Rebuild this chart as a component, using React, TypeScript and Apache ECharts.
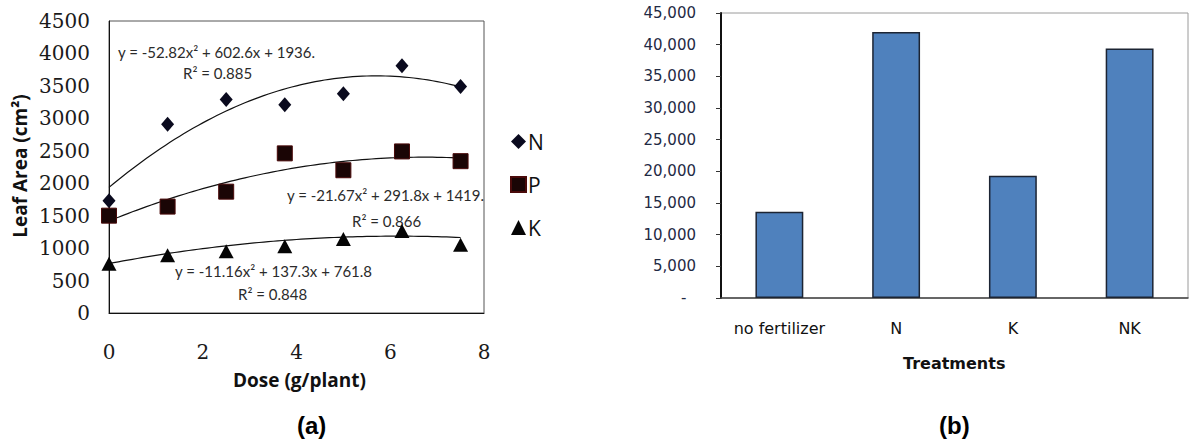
import React, { useEffect, useRef } from "react";
import * as echarts from "echarts";

// ---- Panel (a): leaf area vs dose ----
const doses = [0, 1.25, 2.5, 3.75, 5, 6.25, 7.5];
const nValues = [1730, 2910, 3290, 3210, 3380, 3810, 3490];
const pValues = [1500, 1640, 1870, 2460, 2200, 2490, 2340];
const kValues = [760, 890, 950, 1030, 1140, 1265, 1050];
// printed polynomial trend-line coefficients [a, b, c] for y = a x^2 + b x + c
const trendN = [-52.82, 602.6, 1936];
const trendP = [-21.67, 291.8, 1419];
const trendK = [-11.16, 137.3, 761.8];
const eqN = ["y = -52.82x² + 602.6x + 1936.", "R² = 0.885"];
const eqP = ["y = -21.67x² + 291.8x + 1419.", "R² = 0.866"];
const eqK = ["y = -11.16x² + 137.3x + 761.8", "R² = 0.848"];
const leftYTicks = [0, 4500, 500];
const leftXTicks = [0, 8, 2];

// ---- Panel (b): treatments ----
const treatments = ["no fertilizer", "N", "K", "NK"];
const treatmentValues = [13600, 42000, 19300, 39400];
const rightYTicks = [0, 45000, 5000];

function trendPoints(coef: number[]) {
  const pts: number[][] = [];
  for (let i = 0; i <= 75; i++) {
    const x = i / 10;
    pts.push([x, coef[0] * x * x + coef[1] * x + coef[2]]);
  }
  return pts;
}

const eqFont = { fontFamily: "Lato", fontSize: 15, fill: "#2b2b2b" };

export default function App() {
  const ref = useRef<HTMLDivElement>(null);
  useEffect(() => {
    if (!ref.current) return;
    const chart = echarts.init(ref.current, null, { renderer: "svg" });
    const serifLabel = { fontFamily: "DejaVu Serif", fontSize: 20, color: "#1a1a1a" };
    chart.setOption({
      animation: false,
      backgroundColor: "#ffffff",
      legend: {
        orient: "vertical",
        left: 505,
        top: 126,
        itemWidth: 15,
        itemHeight: 15,
        itemGap: 22,
        data: ["N", "P", "K"],
        textStyle: { fontFamily: "Open Sans", fontSize: 21, color: "#111", padding: [0, 0, 0, -3] },
      },
      grid: [
        { left: 109, top: 21, width: 375, height: 292, show: true, borderColor: "#555", borderWidth: 1, containLabel: false },
        { left: 721, top: 13, width: 467, height: 285, show: true, borderColor: "#9a9a9a", borderWidth: 1, containLabel: false },
      ],
      xAxis: [
        {
          gridIndex: 0,
          type: "value",
          min: leftXTicks[0],
          max: leftXTicks[1],
          interval: leftXTicks[2],
          axisLine: { show: true, onZero: false, lineStyle: { color: "#111", width: 1 } },
          axisTick: { show: false },
          splitLine: { show: false },
          axisLabel: { ...serifLabel, margin: 29, formatter: (v: number) => String(v) },
        },
        {
          gridIndex: 1,
          type: "category",
          data: treatments,
          axisLine: { show: true, lineStyle: { color: "#444", width: 1.5 } },
          axisTick: { show: false },
          axisLabel: { fontFamily: "DejaVu Sans", fontSize: 16, color: "#111", margin: 22, interval: 0 },
        },
      ],
      yAxis: [
        {
          gridIndex: 0,
          type: "value",
          min: leftYTicks[0],
          max: leftYTicks[1],
          interval: leftYTicks[2],
          axisLine: { show: true, onZero: false, lineStyle: { color: "#111", width: 1 } },
          axisTick: { show: false },
          splitLine: { show: false },
          axisLabel: { ...serifLabel, margin: 19, formatter: (v: number) => String(v) },
        },
        {
          gridIndex: 1,
          type: "value",
          min: rightYTicks[0],
          max: rightYTicks[1],
          interval: rightYTicks[2],
          axisLine: { show: true, lineStyle: { color: "#111", width: 2 } },
          axisTick: { show: true, length: 5, lineStyle: { color: "#333" } },
          splitLine: { show: false },
          axisLabel: {
            fontFamily: "DejaVu Sans",
            fontSize: 15,
            color: "#1f2a44",
            margin: 25,
            formatter: (v: number) => (v === 0 ? "-\u00a0\u00a0" : v.toLocaleString("en-US")),
          },
        },
      ],
      series: [
        {
          name: "N",
          type: "scatter",
          xAxisIndex: 0,
          yAxisIndex: 0,
          symbol: "diamond",
          symbolSize: [13, 15],
          itemStyle: { color: "#0a0a1e", opacity: 1 },
          data: doses.map((d, i) => [d, nValues[i]]),
          z: 5,
        },
        {
          name: "P",
          type: "scatter",
          xAxisIndex: 0,
          yAxisIndex: 0,
          symbol: "rect",
          symbolSize: 15,
          itemStyle: { color: "#1a0505", borderColor: "#4a0a0a", borderWidth: 1, opacity: 1 },
          data: doses.map((d, i) => [d, pValues[i]]),
          z: 5,
        },
        {
          name: "K",
          type: "scatter",
          xAxisIndex: 0,
          yAxisIndex: 0,
          symbol: "triangle",
          symbolSize: [15, 14],
          itemStyle: { color: "#050505", opacity: 1 },
          data: doses.map((d, i) => [d, kValues[i]]),
          z: 5,
        },
        ...[trendN, trendP, trendK].map((c) => ({
          type: "line",
          xAxisIndex: 0,
          yAxisIndex: 0,
          showSymbol: false,
          symbol: "none",
          silent: true,
          lineStyle: { color: "#111", width: 1.2 },
          data: trendPoints(c),
          z: 3,
        })),
        {
          type: "bar",
          xAxisIndex: 1,
          yAxisIndex: 1,
          barWidth: "41%",
          itemStyle: { color: "#4f81bd", borderColor: "#1c2433", borderWidth: 1.5 },
          data: treatmentValues,
        },
      ],
      graphic: [
        { type: "text", left: 118, top: 44, style: { text: eqN[0], ...eqFont } },
        { type: "text", left: 183, top: 65, style: { text: eqN[1], ...eqFont } },
        { type: "text", left: 287, top: 187, style: { text: eqP[0], ...eqFont } },
        { type: "text", left: 352, top: 213, style: { text: eqP[1], ...eqFont } },
        { type: "text", left: 175, top: 263, style: { text: eqK[0], ...eqFont } },
        { type: "text", left: 238, top: 286, style: { text: eqK[1], ...eqFont } },
        {
          type: "text",
          left: 233,
          top: 370,
          style: { text: "Dose (g/plant)", fontFamily: "Open Sans", fontWeight: "bold", fontSize: 19, fill: "#111" },
        },
        {
          type: "text",
          x: 20,
          y: 166,
          rotation: Math.PI / 2,
          style: {
            text: "Leaf Area (cm²)",
            fontFamily: "Open Sans",
            fontWeight: "bold",
            fontSize: 19,
            fill: "#111",
            align: "center",
            verticalAlign: "middle",
          },
        },
        {
          type: "text",
          left: 903,
          top: 355,
          style: { text: "Treatments", fontFamily: "DejaVu Sans", fontWeight: "bold", fontSize: 16, fill: "#111" },
        },
        {
          type: "text",
          left: 297,
          top: 413,
          style: { text: "(a)", fontFamily: "Liberation Sans", fontWeight: "bold", fontSize: 24, fill: "#000" },
        },
        {
          type: "text",
          left: 939,
          top: 413,
          style: { text: "(b)", fontFamily: "Liberation Sans", fontWeight: "bold", fontSize: 24, fill: "#000" },
        },
      ],
    });
    return () => chart.dispose();
  }, []);
  return (
    <div
      ref={ref}
      style={{ position: "fixed", left: 0, top: 0, width: 1189, height: 443, background: "#fff" }}
    />
  );
}
